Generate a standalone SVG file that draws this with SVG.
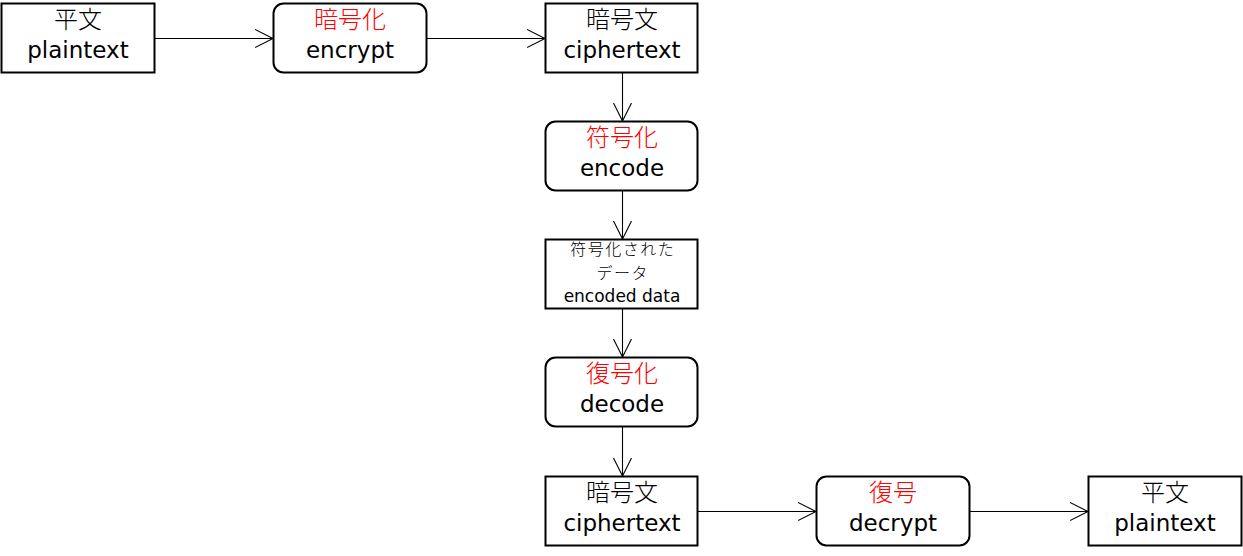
<svg xmlns="http://www.w3.org/2000/svg" width="1243" height="556" viewBox="0 0 1243 556">
<style>
.box{fill:#fff;stroke:#000;stroke-width:2}
.t{font-family:"DejaVu Sans","Noto Sans CJK JP",sans-serif;font-size:23px;text-anchor:middle;fill:#000}
.j{font-family:"Noto Sans CJK JP",sans-serif;font-size:24px;font-weight:300}
.s{font-size:17px}
.sj{font-size:16px;letter-spacing:1.5px}
.r{fill:#ff0000}
.c{stroke:#000;stroke-width:1.1;fill:none}
</style>
<defs>
<marker id="a" markerUnits="userSpaceOnUse" markerWidth="20" markerHeight="20" refX="18" refY="10" orient="auto" viewBox="0 0 20 20">
<path d="M0,1 L18,10 L0,19" fill="none" stroke="#000" stroke-width="1.1"/>
</marker>
</defs>
<g id="connectors">
<line class="c" x1="155" y1="38.5" x2="273" y2="38.5" marker-end="url(#a)"/>
<line class="c" x1="427" y1="38.5" x2="545" y2="38.5" marker-end="url(#a)"/>
<line class="c" x1="622.5" y1="73" x2="622.5" y2="121" marker-end="url(#a)"/>
<line class="c" x1="622.5" y1="191" x2="622.5" y2="239" marker-end="url(#a)"/>
<line class="c" x1="622.5" y1="309" x2="622.5" y2="357" marker-end="url(#a)"/>
<line class="c" x1="622.5" y1="427" x2="622.5" y2="476" marker-end="url(#a)"/>
<line class="c" x1="698" y1="511.5" x2="816" y2="511.5" marker-end="url(#a)"/>
<line class="c" x1="970" y1="511.5" x2="1088" y2="511.5" marker-end="url(#a)"/>
</g>
<g id="plain1">
<rect class="box" x="1.5" y="3.5" width="153" height="69"/>
<text class="t j" x="78" y="28">平文</text>
<text class="t" x="78" y="58">plaintext</text>
</g>
<g id="encrypt">
<rect class="box" x="273.5" y="3.5" width="153" height="69" rx="10"/>
<text class="t j r" x="350" y="28">暗号化</text>
<text class="t" x="350" y="58">encrypt</text>
</g>
<g id="cipher1">
<rect class="box" x="545.5" y="3.5" width="152" height="69"/>
<text class="t j" x="622" y="28">暗号文</text>
<text class="t" x="622" y="58">ciphertext</text>
</g>
<g id="encode">
<rect class="box" x="545.5" y="121.5" width="152" height="69" rx="10"/>
<text class="t j r" x="622" y="146">符号化</text>
<text class="t" x="622" y="176">encode</text>
</g>
<g id="encoded">
<rect class="box" x="545.5" y="239.5" width="152" height="69"/>
<text class="t j sj" x="622.75" y="255">符号化された</text>
<text class="t j sj" x="622.75" y="278.5">データ</text>
<text class="t s" x="622" y="302">encoded data</text>
</g>
<g id="decode">
<rect class="box" x="545.5" y="357.5" width="152" height="69" rx="10"/>
<text class="t j r" x="622" y="382">復号化</text>
<text class="t" x="622" y="412">decode</text>
</g>
<g id="cipher2">
<rect class="box" x="545.5" y="476.5" width="152" height="69"/>
<text class="t j" x="622" y="501">暗号文</text>
<text class="t" x="622" y="531">ciphertext</text>
</g>
<g id="decrypt">
<rect class="box" x="816.5" y="476.5" width="153" height="69" rx="10"/>
<text class="t j r" x="893" y="501">復号</text>
<text class="t" x="893" y="531">decrypt</text>
</g>
<g id="plain2">
<rect class="box" x="1088.5" y="476.5" width="153" height="69"/>
<text class="t j" x="1165" y="501">平文</text>
<text class="t" x="1165" y="531">plaintext</text>
</g>
</svg>
